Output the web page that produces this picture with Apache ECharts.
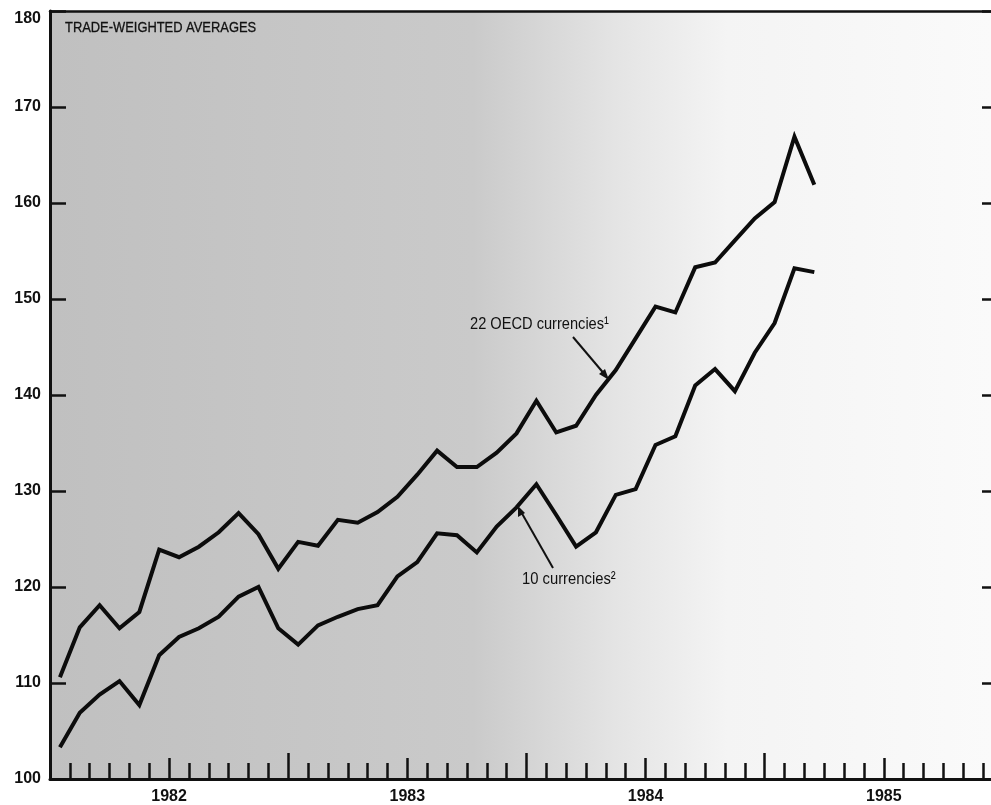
<!DOCTYPE html>
<html>
<head>
<meta charset="utf-8">
<script src="https://cdn.jsdelivr.net/npm/echarts@6/dist/echarts.min.js"></script>
<style>
html,body{margin:0;padding:0;background:#fff;}
#chart{width:991px;height:805px;}
</style>
</head>
<body>
<div id="chart"></div>
<script>
// Years shown under the axis (label at mid-year)
const years = ['1982', '1983', '1984', '1985'];
// Y-axis range
const yTicks = [100, 110, 120, 130, 140, 150, 160, 170, 180];
// Monthly values, Jan 1982 - Mar 1985
const oecd22 = [110.6, 115.8, 118.1, 115.7, 117.4, 123.9, 123.1, 124.2, 125.7, 127.7, 125.5, 121.9,
                124.7, 124.3, 127.0, 126.7, 127.8, 129.4, 131.7, 134.2, 132.5, 132.5, 134.0, 136.0,
                139.4, 136.1, 136.8, 140.0, 142.6, 145.9, 149.2, 148.6, 153.3, 153.8, 156.1, 158.4,
                160.1, 166.9, 161.9];
const cur10 = [103.3, 106.9, 108.8, 110.2, 107.7, 112.9, 114.8, 115.7, 116.9, 119.0, 120.0, 115.7,
               114.0, 116.0, 116.9, 117.7, 118.1, 121.1, 122.6, 125.6, 125.4, 123.6, 126.3, 128.3,
               130.7, 127.5, 124.2, 125.7, 129.6, 130.2, 134.8, 135.7, 141.0, 142.7, 140.4, 144.4,
               147.5, 153.2, 152.8];

const toPts = arr => arr.map((v, i) => [i + 0.5, v]);
// the printed axis runs past the right edge of the page: only ~47.4 months are visible
const visibleMonths = 47.4;
const FONT = '"Liberation Sans", Arial, sans-serif';

// tick positions (month boundaries), half-year marks, year boundaries, label positions
const monthTicks = [], halfTicks = [], yearTicks = [], yearLabelPos = [];
for (let m = 0; m <= Math.floor(visibleMonths); m++) {
  monthTicks.push(m);
  if (m % 6 === 0) halfTicks.push(m);
  if (m % 12 === 0) yearTicks.push(m);
}
years.forEach((y, i) => yearLabelPos.push(i * 12 + 6));

const chart = echarts.init(document.getElementById('chart'), null, {renderer: 'canvas'});

const baseX = {
  type: 'value', min: 0, max: visibleMonths, position: 'bottom',
  splitLine: {show: false}, axisLabel: {show: false},
  axisLine: {show: false}
};

const option = {
  backgroundColor: '#ffffff',
  animation: false,
  grid: {
    left: 50, right: 0, top: 11, bottom: 26,
    show: true,
    borderWidth: 0,
    backgroundColor: {
      type: 'linear', x: 0, y: 0, x2: 1, y2: 0,
      colorStops: [
        {offset: 0, color: '#c0c0c0'},
        {offset: 0.45, color: '#cacaca'},
        {offset: 0.6, color: '#e4e4e4'},
        {offset: 0.72, color: '#f4f4f4'},
        {offset: 1, color: '#fafafa'}
      ]
    }
  },
  xAxis: [
    Object.assign({}, baseX, {
      axisLine: {show: true, onZero: false, lineStyle: {color: '#111', width: 3}},
      axisTick: {show: true, inside: true, length: 16, customValues: monthTicks,
                 lineStyle: {color: '#111', width: 2.5}}
    }),
    Object.assign({}, baseX, {
      axisTick: {show: true, inside: true, length: 21, customValues: halfTicks,
                 lineStyle: {color: '#111', width: 2.5}},
      axisLabel: {
        show: true, margin: 10, color: '#111', fontFamily: FONT, fontWeight: 'bold', fontSize: 16,
        customValues: yearLabelPos,
        formatter: v => years[Math.round((v - 6) / 12)]
      }
    }),
    Object.assign({}, baseX, {
      axisTick: {show: true, inside: true, length: 26, customValues: yearTicks,
                 lineStyle: {color: '#111', width: 2.5}}
    }),
    Object.assign({}, baseX, {
      position: 'top',
      axisLine: {show: true, onZero: false, lineStyle: {color: '#111', width: 2.5}},
      axisTick: {show: false}
    })
  ],
  yAxis: [
    {
      type: 'value', min: yTicks[0], max: yTicks[yTicks.length - 1], interval: 10,
      position: 'left',
      splitLine: {show: false},
      axisLine: {show: true, onZero: false, lineStyle: {color: '#111', width: 3}},
      axisTick: {show: true, inside: true, length: 16, lineStyle: {color: '#111', width: 2.5}},
      axisLabel: {margin: 9, color: '#111', fontFamily: FONT, fontWeight: 'bold', fontSize: 16,
                  verticalAlignMaxLabel: 'top'}
    },
    {
      type: 'value', min: yTicks[0], max: yTicks[yTicks.length - 1], interval: 10,
      position: 'right',
      splitLine: {show: false},
      axisLine: {show: false, onZero: false},
      axisTick: {show: true, inside: true, length: 9, lineStyle: {color: '#111', width: 2.5}},
      axisLabel: {show: false}
    }
  ],
  series: [
    {
      name: '22 OECD currencies', type: 'line', xAxisIndex: 0, yAxisIndex: 0,
      data: toPts(oecd22), showSymbol: false, symbol: 'none',
      lineStyle: {color: '#0c0c0c', width: 4, join: 'miter'}, z: 5
    },
    {
      name: '10 currencies', type: 'line', xAxisIndex: 0, yAxisIndex: 0,
      data: toPts(cur10), showSymbol: false, symbol: 'none',
      lineStyle: {color: '#0c0c0c', width: 4, join: 'miter'}, z: 5
    }
  ],
  graphic: [
    {type: 'text', x: 65, y: 20, scaleX: 0.86, z: 10,
     style: {text: 'TRADE-WEIGHTED AVERAGES', fill: '#111', font: '15px ' + FONT, stroke: '#111', lineWidth: 0.3}},
    {type: 'text', x: 470, y: 316, scaleX: 0.86, z: 10,
     style: {text: '22 OECD currencies¹', fill: '#111', font: '17px ' + FONT}},
    {type: 'text', x: 522, y: 571, scaleX: 0.87, z: 10,
     style: {text: '10 currencies²', fill: '#111', font: '17px ' + FONT}},
    {type: 'line', z: 10, shape: {x1: 573, y1: 337, x2: 606, y2: 376},
     style: {stroke: '#111', lineWidth: 2}},
    {type: 'polygon', z: 10, shape: {points: [[609, 380], [599, 374], [605, 369]]},
     style: {fill: '#111'}},
    {type: 'line', z: 10, shape: {x1: 553, y1: 568, x2: 520, y2: 510},
     style: {stroke: '#111', lineWidth: 2}},
    {type: 'polygon', z: 10, shape: {points: [[518, 506], [518, 517], [525, 513]]},
     style: {fill: '#111'}}
  ]
};
chart.setOption(option);
</script>
</body>
</html>
